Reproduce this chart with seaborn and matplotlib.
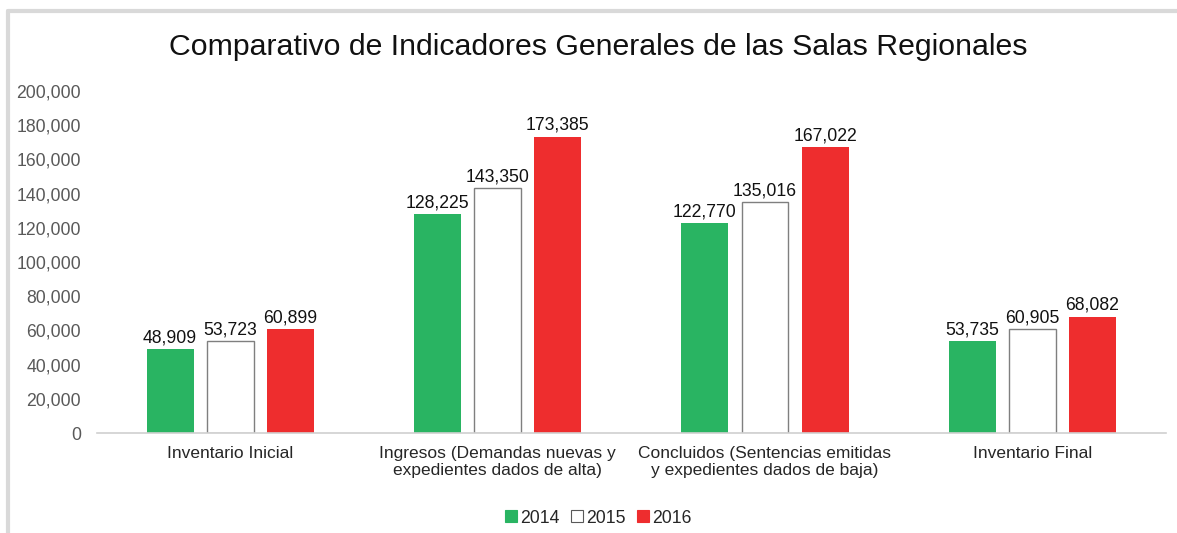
import pandas as pd
import matplotlib.pyplot as plt
import seaborn as sns
from matplotlib.lines import Line2D

# datos
categorias = ['Inventario Inicial',
              'Ingresos (Demandas nuevas y\nexpedientes dados de alta)',
              'Concluidos (Sentencias emitidas\ny expedientes dados de baja)',
              'Inventario Final']
anios = ['2014', '2015', '2016']
v2014 = [48909, 128225, 122770, 53735]
v2015 = [53723, 143350, 135016, 60905]
v2016 = [60899, 173385, 167022, 68082]

df = pd.DataFrame({
    'categoria': categorias * 3,
    'anio': [a for a in anios for _ in categorias],
    'valor': v2014 + v2015 + v2016,
})

sns.set_style('white')
plt.rcParams['font.family'] = ['Liberation Sans', 'DejaVu Sans']

colores = {'2014': '#29b462', '2015': '#ffffff', '2016': '#ee2d2e'}

fig = plt.figure(figsize=(11.77, 5.33), dpi=100)
ax = fig.add_axes([0.082, 0.1876, 0.9087, 0.6415])

sns.barplot(data=df, x='categoria', y='valor', hue='anio', palette=colores,
            width=0.675, gap=0.22, ax=ax, legend=False, saturation=1)

for i, cont in enumerate(ax.containers):
    for p in cont:
        if anios[i] == '2015':
            p.set_edgecolor('#7f7f7f')
            p.set_linewidth(1.0)
        else:
            p.set_edgecolor('none')
    ax.bar_label(cont, labels=[f'{v:,.0f}' for v in cont.datavalues],
                 padding=2, fontsize=12.7, color='#111111')

ax.set_ylim(0, 200000)
ax.set_yticks(range(0, 200001, 20000))
ax.yaxis.set_major_formatter(plt.FuncFormatter(lambda v, _: f'{v:,.0f}'))
ax.tick_params(axis='y', labelsize=12.7, labelcolor='#595959', length=0, pad=11)
ax.tick_params(axis='x', labelsize=12.5, labelcolor='#262626', length=0, pad=9)
ax.set_xlabel('')
ax.set_ylabel('')
for s in ['top', 'right', 'left']:
    ax.spines[s].set_visible(False)
ax.spines['bottom'].set_color('#d0d0d0')
ax.spines['bottom'].set_linewidth(1.2)

fig.text(0.508, 0.912, 'Comparativo de Indicadores Generales de las Salas Regionales',
         ha='center', va='center', fontsize=21.8, color='#111111')

handles = [Line2D([], [], marker='s', linestyle='none', markersize=9,
                  markerfacecolor=colores[a],
                  markeredgecolor='#595959' if a == '2015' else colores[a],
                  markeredgewidth=0.8) for a in anios]
fig.legend(handles, anios, loc='center', bbox_to_anchor=(0.508, 0.028), ncol=3,
           frameon=False, fontsize=12.7, handlelength=0.8, handletextpad=0.1,
           columnspacing=0.6)

# marco gris
fig.add_artist(Line2D([0.007, 1.0], [0.979, 0.979], color='#d9d9d9', lw=3,
                      transform=fig.transFigure))
fig.add_artist(Line2D([0.007, 0.007], [0.0, 0.979], color='#d9d9d9', lw=3,
                      transform=fig.transFigure))

plt.savefig('out.png', dpi=100)
plt.close()
